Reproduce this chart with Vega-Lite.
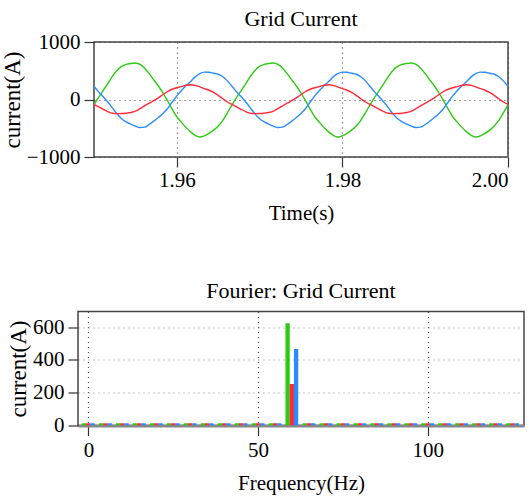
{
  "$schema": "https://vega.github.io/schema/vega-lite/v6.json",
  "background": "white",
  "padding": {"left": 0, "top": 6, "right": 0, "bottom": 0},
  "center": true,
  "bounds": "flush",
  "spacing": 154.5,
  "config": {
    "font": "Liberation Serif",
    "view": {"stroke": "#444", "strokeWidth": 1.5},
    "title": {"font": "Liberation Serif", "fontSize": 22, "fontWeight": "normal", "color": "black", "offset": 0.5},
    "axis": {
      "labelFont": "Liberation Serif", "titleFont": "Liberation Serif",
      "labelFontSize": 21, "titleFontSize": 21, "titleFontWeight": "normal",
      "labelColor": "black", "titleColor": "black",
      "tickColor": "#333", "tickSize": 10, "tickWidth": 1.2,
      "domain": false,
      "gridColor": "#444", "gridDash": [1, 4], "gridWidth": 1.2, "gridOpacity": 1
    }
  },
  "vconcat": [
    {
      "width": 414,
      "height": 115,
      "title": {"text": "Grid Current"},
      "data": {"values": [
        {"t":1.95,"a":-93,"b":230,"c":-85},
        {"t":1.95056,"a":36,"b":132,"c":-127},
        {"t":1.95111,"a":156,"b":48,"c":-170},
        {"t":1.95167,"a":276,"b":-44,"c":-211},
        {"t":1.95222,"a":402,"b":-146,"c":-239},
        {"t":1.95278,"a":505,"b":-250,"c":-245},
        {"t":1.95333,"a":575,"b":-336,"c":-244},
        {"t":1.95389,"a":611,"b":-389,"c":-238},
        {"t":1.95444,"a":627,"b":-430,"c":-227},
        {"t":1.955,"a":635,"b":-464,"c":-204},
        {"t":1.95556,"a":609,"b":-486,"c":-159},
        {"t":1.95611,"a":545,"b":-481,"c":-111},
        {"t":1.95667,"a":449,"b":-435,"c":-64},
        {"t":1.95722,"a":339,"b":-376,"c":-20},
        {"t":1.95778,"a":235,"b":-312,"c":29},
        {"t":1.95833,"a":113,"b":-242,"c":87},
        {"t":1.95889,"a":-24,"b":-156,"c":139},
        {"t":1.95944,"a":-168,"b":-44,"c":178},
        {"t":1.96,"a":-300,"b":64,"c":205},
        {"t":1.96056,"a":-398,"b":158,"c":225},
        {"t":1.96111,"a":-485,"b":238,"c":247},
        {"t":1.96167,"a":-563,"b":312,"c":256},
        {"t":1.96222,"a":-623,"b":393,"c":246},
        {"t":1.96278,"a":-651,"b":450,"c":221},
        {"t":1.96333,"a":-631,"b":476,"c":190},
        {"t":1.96389,"a":-589,"b":474,"c":161},
        {"t":1.96444,"a":-533,"b":457,"c":123},
        {"t":1.965,"a":-461,"b":439,"c":72},
        {"t":1.96556,"a":-363,"b":396,"c":14},
        {"t":1.96611,"a":-231,"b":324,"c":-43},
        {"t":1.96667,"a":-93,"b":230,"c":-85},
        {"t":1.96722,"a":36,"b":132,"c":-127},
        {"t":1.96778,"a":156,"b":48,"c":-170},
        {"t":1.96833,"a":276,"b":-44,"c":-211},
        {"t":1.96889,"a":402,"b":-146,"c":-239},
        {"t":1.96944,"a":505,"b":-250,"c":-245},
        {"t":1.97,"a":575,"b":-336,"c":-244},
        {"t":1.97056,"a":611,"b":-389,"c":-238},
        {"t":1.97111,"a":627,"b":-430,"c":-227},
        {"t":1.97167,"a":635,"b":-464,"c":-204},
        {"t":1.97222,"a":609,"b":-486,"c":-159},
        {"t":1.97278,"a":545,"b":-481,"c":-111},
        {"t":1.97333,"a":449,"b":-435,"c":-64},
        {"t":1.97389,"a":339,"b":-376,"c":-20},
        {"t":1.97444,"a":235,"b":-312,"c":29},
        {"t":1.975,"a":113,"b":-242,"c":87},
        {"t":1.97556,"a":-24,"b":-156,"c":139},
        {"t":1.97611,"a":-168,"b":-44,"c":178},
        {"t":1.97667,"a":-300,"b":64,"c":205},
        {"t":1.97722,"a":-398,"b":158,"c":225},
        {"t":1.97778,"a":-485,"b":238,"c":247},
        {"t":1.97833,"a":-563,"b":312,"c":256},
        {"t":1.97889,"a":-623,"b":393,"c":246},
        {"t":1.97944,"a":-651,"b":450,"c":221},
        {"t":1.98,"a":-631,"b":476,"c":190},
        {"t":1.98056,"a":-589,"b":474,"c":161},
        {"t":1.98111,"a":-533,"b":457,"c":123},
        {"t":1.98167,"a":-461,"b":439,"c":72},
        {"t":1.98222,"a":-363,"b":396,"c":14},
        {"t":1.98278,"a":-231,"b":324,"c":-43},
        {"t":1.98333,"a":-93,"b":230,"c":-85},
        {"t":1.98389,"a":36,"b":132,"c":-127},
        {"t":1.98444,"a":156,"b":48,"c":-170},
        {"t":1.985,"a":276,"b":-44,"c":-211},
        {"t":1.98556,"a":402,"b":-146,"c":-239},
        {"t":1.98611,"a":505,"b":-250,"c":-245},
        {"t":1.98667,"a":575,"b":-336,"c":-244},
        {"t":1.98722,"a":611,"b":-389,"c":-238},
        {"t":1.98778,"a":627,"b":-430,"c":-227},
        {"t":1.98833,"a":635,"b":-464,"c":-204},
        {"t":1.98889,"a":609,"b":-486,"c":-159},
        {"t":1.98944,"a":545,"b":-481,"c":-111},
        {"t":1.99,"a":449,"b":-435,"c":-64},
        {"t":1.99056,"a":339,"b":-376,"c":-20},
        {"t":1.99111,"a":235,"b":-312,"c":29},
        {"t":1.99167,"a":113,"b":-242,"c":87},
        {"t":1.99222,"a":-24,"b":-156,"c":139},
        {"t":1.99278,"a":-168,"b":-44,"c":178},
        {"t":1.99333,"a":-300,"b":64,"c":205},
        {"t":1.99389,"a":-398,"b":158,"c":225},
        {"t":1.99444,"a":-485,"b":238,"c":247},
        {"t":1.995,"a":-563,"b":312,"c":256},
        {"t":1.99556,"a":-623,"b":393,"c":246},
        {"t":1.99611,"a":-651,"b":450,"c":221},
        {"t":1.99667,"a":-631,"b":476,"c":190},
        {"t":1.99722,"a":-589,"b":474,"c":161},
        {"t":1.99778,"a":-533,"b":457,"c":123},
        {"t":1.99833,"a":-461,"b":439,"c":72},
        {"t":1.99889,"a":-363,"b":396,"c":14},
        {"t":1.99944,"a":-231,"b":324,"c":-43},
        {"t":2.0,"a":-93,"b":230,"c":-85}
      ]},
      "transform": [{"fold": ["a", "b", "c"], "as": ["phase", "current"]}],
      "mark": {"type": "line", "strokeWidth": 1.4, "interpolate": "monotone", "clip": true},
      "encoding": {
        "x": {"field": "t", "type": "quantitative",
              "scale": {"domain": [1.95, 2.0], "nice": false, "zero": false},
              "axis": {"values": [1.96, 1.98, 2.0], "format": ".2f", "title": "Time(s)", "grid": true, "labelPadding": 2, "titlePadding": 12}},
        "y": {"field": "current", "type": "quantitative",
              "scale": {"domain": [-1000, 1000], "nice": false},
              "axis": {"values": [-1000, 0, 1000], "format": "d", "title": "current(A)", "titleFontSize": 23, "grid": true, "labelPadding": 4, "titlePadding": 2}},
        "color": {"field": "phase", "type": "nominal",
                  "scale": {"domain": ["a", "b", "c"], "range": ["#2ccc10", "#2b8cff", "#ff2b38"]},
                  "legend": null}
      }
    },
    {
      "width": 446,
      "height": 114,
      "title": {"text": "Fourier: Grid Current", "offset": 9},
      "data": {"values": [
        {"f":-1.25,"p":"a","v":14},{"f":0,"p":"c","v":14},{"f":1.25,"p":"b","v":14},
        {"f":3.75,"p":"a","v":14},{"f":5,"p":"c","v":14},{"f":6.25,"p":"b","v":14},
        {"f":8.75,"p":"a","v":14},{"f":10,"p":"c","v":14},{"f":11.25,"p":"b","v":14},
        {"f":13.75,"p":"a","v":14},{"f":15,"p":"c","v":14},{"f":16.25,"p":"b","v":14},
        {"f":18.75,"p":"a","v":14},{"f":20,"p":"c","v":14},{"f":21.25,"p":"b","v":14},
        {"f":23.75,"p":"a","v":14},{"f":25,"p":"c","v":14},{"f":26.25,"p":"b","v":14},
        {"f":28.75,"p":"a","v":14},{"f":30,"p":"c","v":14},{"f":31.25,"p":"b","v":14},
        {"f":33.75,"p":"a","v":14},{"f":35,"p":"c","v":14},{"f":36.25,"p":"b","v":14},
        {"f":38.75,"p":"a","v":14},{"f":40,"p":"c","v":14},{"f":41.25,"p":"b","v":14},
        {"f":43.75,"p":"a","v":14},{"f":45,"p":"c","v":14},{"f":46.25,"p":"b","v":14},
        {"f":48.75,"p":"a","v":14},{"f":50,"p":"c","v":14},{"f":51.25,"p":"b","v":14},
        {"f":53.75,"p":"a","v":14},{"f":55,"p":"c","v":14},{"f":56.25,"p":"b","v":14},
        {"f":58.7,"p":"a","v":623},{"f":59.95,"p":"c","v":253},{"f":61.2,"p":"b","v":467},
        {"f":63.75,"p":"a","v":14},{"f":65,"p":"c","v":14},{"f":66.25,"p":"b","v":14},
        {"f":68.75,"p":"a","v":14},{"f":70,"p":"c","v":14},{"f":71.25,"p":"b","v":14},
        {"f":73.75,"p":"a","v":14},{"f":75,"p":"c","v":14},{"f":76.25,"p":"b","v":14},
        {"f":78.75,"p":"a","v":14},{"f":80,"p":"c","v":14},{"f":81.25,"p":"b","v":14},
        {"f":83.75,"p":"a","v":14},{"f":85,"p":"c","v":14},{"f":86.25,"p":"b","v":14},
        {"f":88.75,"p":"a","v":14},{"f":90,"p":"c","v":14},{"f":91.25,"p":"b","v":14},
        {"f":93.75,"p":"a","v":14},{"f":95,"p":"c","v":14},{"f":96.25,"p":"b","v":14},
        {"f":98.75,"p":"a","v":14},{"f":100,"p":"c","v":14},{"f":101.25,"p":"b","v":14},
        {"f":103.75,"p":"a","v":14},{"f":105,"p":"c","v":14},{"f":106.25,"p":"b","v":14},
        {"f":108.75,"p":"a","v":14},{"f":110,"p":"c","v":14},{"f":111.25,"p":"b","v":14},
        {"f":113.75,"p":"a","v":14},{"f":115,"p":"c","v":14},{"f":116.25,"p":"b","v":14},
        {"f":118.75,"p":"a","v":14},{"f":120,"p":"c","v":14},{"f":121.25,"p":"b","v":14},
        {"f":123.75,"p":"a","v":14},{"f":125,"p":"c","v":14},{"f":126.25,"p":"b","v":14}
      ]},
      "mark": {"type": "bar", "size": 4.3, "clip": true},
      "encoding": {
        "x": {"field": "f", "type": "quantitative",
              "scale": {"domain": [-1.6, 126.9], "nice": false, "zero": false},
              "axis": {"values": [0, 50, 100], "title": "Frequency(Hz)", "grid": true, "labelPadding": 4, "titlePadding": 12,
                       "domain": true, "domainColor": "#888", "domainWidth": 3}},
        "y": {"field": "v", "type": "quantitative",
              "scale": {"domain": [0, 695], "nice": false},
              "axis": {"values": [0, 200, 400, 600], "title": "current(A)", "titleFontSize": 23, "grid": true, "gridColor": "#888", "labelPadding": 4, "titlePadding": 2}},
        "color": {"field": "p", "type": "nominal",
                  "scale": {"domain": ["a", "b", "c"], "range": ["#2ccc10", "#2b8cff", "#ff2b38"]},
                  "legend": null}
      }
    }
  ]
}
